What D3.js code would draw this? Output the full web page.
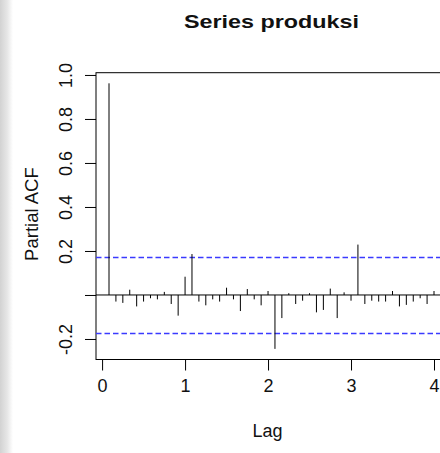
<!DOCTYPE html>
<html>
<head>
<meta charset="utf-8">
<script src="https://cdn.jsdelivr.net/npm/d3@7"></script>
<style>
  html, body { margin: 0; padding: 0; background: #fff; }
  svg { display: block; }
  text { font-family: "Liberation Sans", Arial, Helvetica, sans-serif; fill: #111; }
</style>
</head>
<body>
<svg id="chart" width="440" height="453"></svg>
<script>
// Partial autocorrelations of the monthly "produksi" series, lags 1..48 (months)
const lagMonths = [1, 2, 3, 4, 5, 6, 7, 8, 9, 10, 11, 12,
                   13, 14, 15, 16, 17, 18, 19, 20, 21, 22, 23, 24,
                   25, 26, 27, 28, 29, 30, 31, 32, 33, 34, 35, 36,
                   37, 38, 39, 40, 41, 42, 43, 44, 45, 46, 47, 48];
const pacfValues = [0.962, -0.030, -0.036, 0.024, -0.052, -0.030, -0.015, -0.020, 0.014, -0.041, -0.094, 0.083,
                    0.186, -0.030, -0.047, -0.020, -0.030, 0.033, -0.020, -0.073, 0.027, -0.020, -0.047, 0.018,
                    -0.245, -0.105, 0.008, -0.041, -0.026, 0.008, -0.079, -0.068, 0.029, -0.105, 0.012, -0.026,
                    0.229, -0.041, -0.026, -0.030, -0.030, 0.018, -0.052, -0.045, -0.030, -0.015, -0.041, 0.018];
const frequency = 12;
const confLimit = 0.171;           // 1.96 / sqrt(n)
const xTicks = [0, 1, 2, 3, 4];
const yTicks = [-0.2, 0.0, 0.2, 0.4, 0.6, 0.8, 1.0];
const yTickLabels = ["-0.2", "", "0.2", "0.4", "0.6", "0.8", "1.0"];
const titleText = "Series  produksi";
const xLabel = "Lag";
const yLabel = "Partial ACF";

const data = lagMonths.map((m, i) => ({ lag: m / frequency, value: pacfValues[i] }));

// plot region (R-style box with 4% axis extension)
const box = { left: 96, right: 447, top: 72.7, bottom: 359.5 };
function extend(ext) { const d = ext[1] - ext[0]; return [ext[0] - 0.04 * d, ext[1] + 0.04 * d]; }
const xlim = extend(d3.extent(data, d => d.lag));
const ylim = extend(d3.extent([...pacfValues, -confLimit, confLimit]));

const x = d3.scaleLinear().domain(xlim).range([box.left, box.right]);
const y = d3.scaleLinear().domain(ylim).range([box.bottom, box.top]);

const svg = d3.select("#chart");

// soft grey shading along the left edge of the page
const defs = svg.append("defs");
const grad = defs.append("linearGradient").attr("id", "edgeShade")
  .attr("x1", "0").attr("x2", "1").attr("y1", "0").attr("y2", "0");
grad.append("stop").attr("offset", "0").attr("stop-color", "#d2d2d2");
grad.append("stop").attr("offset", "0.55").attr("stop-color", "#e6e6e6");
grad.append("stop").attr("offset", "1").attr("stop-color", "#ffffff");
svg.append("rect").attr("x", 0).attr("y", 0).attr("width", 13).attr("height", 453)
  .attr("fill", "url(#edgeShade)");

// title
svg.append("text")
  .attr("x", (box.left + box.right) / 2).attr("y", 28)
  .attr("text-anchor", "middle")
  .attr("font-size", 19).attr("font-weight", "bold")
  .attr("textLength", 175).attr("lengthAdjust", "spacingAndGlyphs")
  .text(titleText);

// plot frame
svg.append("rect")
  .attr("x", box.left).attr("y", box.top)
  .attr("width", box.right - box.left).attr("height", box.bottom - box.top)
  .attr("fill", "none").attr("stroke", "#000").attr("stroke-width", 1);

// zero line
svg.append("line")
  .attr("x1", box.left).attr("x2", box.right)
  .attr("y1", y(0)).attr("y2", y(0))
  .attr("stroke", "#000").attr("stroke-width", 1);

// confidence bounds
svg.selectAll("line.ci").data([confLimit, -confLimit]).join("line")
  .attr("class", "ci")
  .attr("x1", box.left).attr("x2", box.right)
  .attr("y1", d => Math.round(y(d)) + 0.5).attr("y2", d => Math.round(y(d)) + 0.5)
  .attr("stroke", "#3a3aff").attr("stroke-width", 1.4)
  .attr("stroke-dasharray", "5.5,3");

// spikes
svg.selectAll("line.spike").data(data).join("line")
  .attr("class", "spike")
  .attr("x1", d => x(d.lag)).attr("x2", d => x(d.lag))
  .attr("y1", y(0)).attr("y2", d => y(d.value))
  .attr("stroke", "#000").attr("stroke-width", 1);

// x axis
const xAxis = d3.axisBottom(x).tickValues(xTicks).tickSize(11).tickPadding(6)
  .tickFormat(d3.format("d"));
const gx = svg.append("g").attr("transform", `translate(0,${box.bottom})`).call(xAxis);
gx.select(".domain").remove();
gx.selectAll(".tick line").attr("stroke", "#000");
gx.selectAll(".tick text").attr("font-size", 18).attr("font-family", null).attr("fill", null)
  .attr("dy", null).attr("y", 32);

// y axis
const yAxis = d3.axisLeft(y).tickValues(yTicks).tickSize(11)
  .tickFormat((d, i) => yTickLabels[i]);
const gy = svg.append("g").attr("transform", `translate(${box.left},0)`).call(yAxis);
gy.select(".domain").remove();
gy.selectAll(".tick line").attr("stroke", "#000");
gy.selectAll(".tick text")
  .attr("font-size", 18).attr("font-family", null).attr("fill", null)
  .attr("x", null).attr("dy", null).attr("y", null)
  .attr("text-anchor", "middle")
  .attr("transform", "translate(-24,0) rotate(-90)");

// axis titles
svg.append("text")
  .attr("x", (box.left + box.right) / 2 - 4).attr("y", 437)
  .attr("text-anchor", "middle").attr("font-size", 18)
  .text(xLabel);

svg.append("text")
  .attr("transform", `translate(38,${(box.top + box.bottom) / 2 - 2}) rotate(-90)`)
  .attr("text-anchor", "middle").attr("font-size", 18.5)
  .text(yLabel);
</script>
</body>
</html>
